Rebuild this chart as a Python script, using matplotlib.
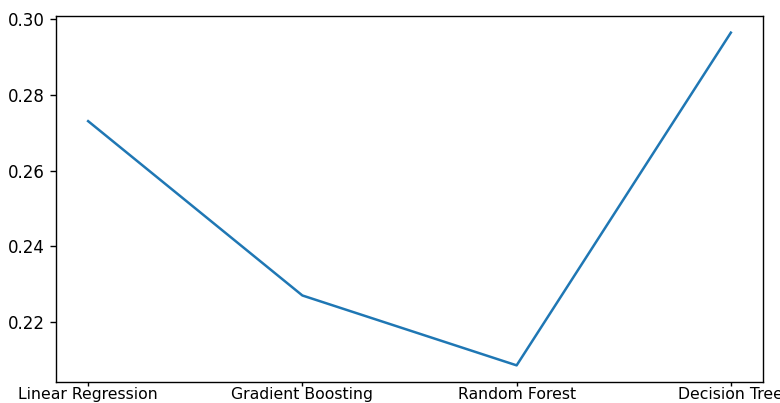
import matplotlib
matplotlib.use('Agg')
import matplotlib.pyplot as plt

# model names and their scores
models = ['Linear Regression', 'Gradient Boosting', 'Random Forest', 'Decision Tree']
scores = [0.2730, 0.2271, 0.2087, 0.2963]

fig = plt.figure(figsize=(7.8, 4.03), dpi=100)
ax = fig.add_axes([56 / 780, 1 - 382 / 403, (763 - 56) / 780, (382 - 16) / 403])

ax.plot(models, scores, color='#1f77b4', linewidth=1.8)

ax.set_yticks([0.22, 0.24, 0.26, 0.28, 0.30])
ax.tick_params(axis='y', labelsize=12, length=4.5, width=1)
ax.tick_params(axis='x', labelsize=11.3, length=3, width=1, pad=0.5)
for s in ax.spines.values():
    s.set_linewidth(1)

plt.savefig('out.png', dpi=100)
plt.close()
